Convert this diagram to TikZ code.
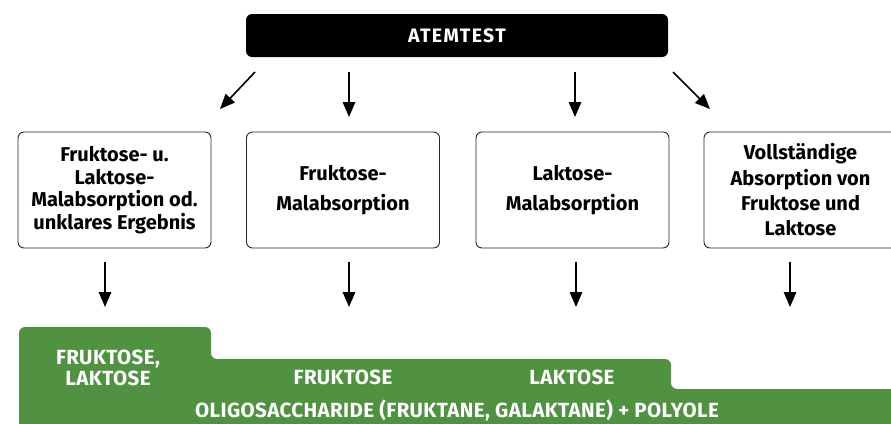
\documentclass[tikz,border=0pt]{standalone}
\usepackage{fontspec}
\setmainfont{Fira Sans}
\usetikzlibrary{arrows.meta}
\definecolor{grn}{RGB}{80,146,66}
\tikzset{
  resbox/.style={draw=black!85, line width=0.9pt, rounded corners=6pt, minimum width=193pt, minimum height=116pt, align=center, font=\fontsize{20}{22.6}\selectfont\bfseries, inner sep=0pt},
  flow/.style={line width=1.6pt, -{Triangle[length=15pt,width=12.5pt]}},
  gtext/.style={text=white, font=\fontsize{20.5}{21}\selectfont\bfseries\addfontfeatures{LetterSpace=2}, align=center, inner sep=0pt}
}
\begin{document}
\begin{tikzpicture}[x=1pt,y=-1pt]
\useasboundingbox (0,0) rectangle (891,423);
\clip (0,0) rectangle (891,423);
% header
\node[fill=black, rounded corners=6pt, minimum width=422pt, minimum height=43pt, inner sep=0pt, text=white, font=\fontsize{19.5}{20}\selectfont\bfseries\addfontfeatures{LetterSpace=7}] (atem) at (457,35.5) {ATEMTEST};
% result boxes
\node[resbox] (b1) at (114.5,190) {Fruktose- u.\\Laktose-\\Malabsorption od.\\unklares Ergebnis};
\node[resbox, font=\fontsize{20}{30}\selectfont\bfseries] (b2) at (343,190) {Fruktose-\\Malabsorption};
\node[resbox, font=\fontsize{20}{30}\selectfont\bfseries] (b3) at (572.5,190) {Laktose-\\Malabsorption};
\node[resbox, font=\fontsize{20}{25.3}\selectfont\bfseries] (b4) at (800.5,190) {Vollständige\\Absorption von\\Fruktose und\\Laktose};
% arrow coordinates
\coordinate (a1s) at (255,72); \coordinate (a1e) at (220,109);
\coordinate (a2s) at (349,72); \coordinate (a2e) at (349,117);
\coordinate (a3s) at (575,72); \coordinate (a3e) at (575,117);
\coordinate (a4s) at (673,72); \coordinate (a4e) at (710,109);
\draw[flow] (a1s) -- (a1e);
\draw[flow] (a2s) -- (a2e);
\draw[flow] (a3s) -- (a3e);
\draw[flow] (a4s) -- (a4e);
\coordinate (c1s) at (105,262); \coordinate (c1e) at (105,307);
\coordinate (c2s) at (349,262); \coordinate (c2e) at (349,307);
\coordinate (c3s) at (576,262); \coordinate (c3e) at (576,307);
\coordinate (c4s) at (790,262); \coordinate (c4e) at (790,307);
\draw[flow] (c1s) -- (c1e);
\draw[flow] (c2s) -- (c2e);
\draw[flow] (c3s) -- (c3e);
\draw[flow] (c4s) -- (c4e);
% green band
\fill[grn, rounded corners=6pt] (19,440) -- (19,327) -- (211,327) -- (211,359) -- (671,359) -- (671,389) -- (910,389) -- (910,440) -- cycle;
\node[gtext] (g1) at (108,367.5) {FRUKTOSE,\\LAKTOSE};
\node[gtext] (g2) at (343,377) {FRUKTOSE};
\node[gtext] (g3) at (572,377) {LAKTOSE};
\node[gtext] (g4) at (457,411) {OLIGOSACCHARIDE (FRUKTANE, GALAKTANE) + POLYOLE};
\end{tikzpicture}
\end{document}
